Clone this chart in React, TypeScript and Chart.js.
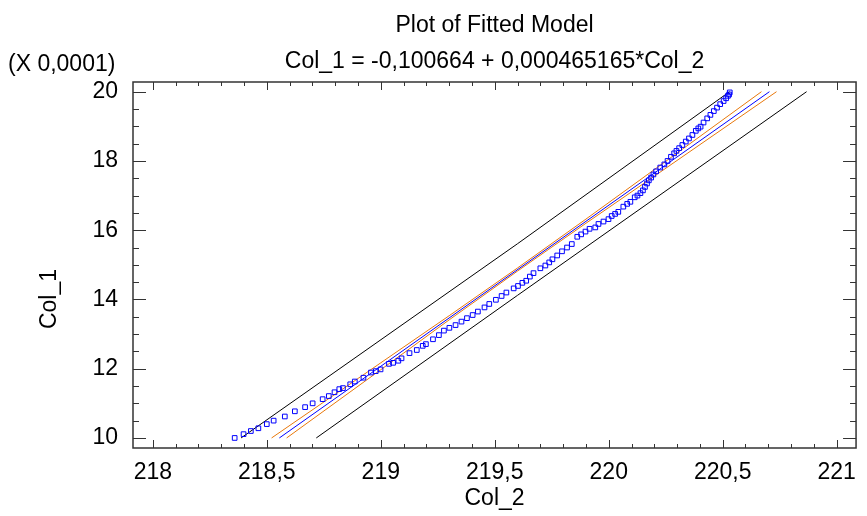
import React, { useEffect, useRef } from "react";
import { Chart, registerables } from "chart.js";

Chart.register(...registerables);

const titleLine1 = "Plot of Fitted Model";
const titleLine2 = "Col_1 = -0,100664 + 0,000465165*Col_2";
const yScaleNote = "(X 0,0001)";
const xAxisTitle = "Col_2";
const yAxisTitle = "Col_1";

const xMajorTicks = [218, 218.5, 219, 219.5, 220, 220.5, 221];
const yMajorTicks = [10, 12, 14, 16, 18, 20];
const xMinorStep = 0.1;
const yMinorStep = 0.5;
const xRange = [217.913, 221.085];
const yRange = [9.71, 20.28];

// observed points (Col_2, Col_1 in units of 0.0001)
const obsX = [
  218.359, 218.398, 218.43, 218.463, 218.5, 218.53, 218.579, 218.623, 218.668, 218.701,
  218.745, 218.772, 218.797, 218.818, 218.834, 218.866, 218.886, 218.924, 218.957, 218.978,
  218.999, 219.036, 219.054, 219.077, 219.091, 219.126, 219.158, 219.184, 219.198, 219.229,
  219.255, 219.277, 219.301, 219.328, 219.354, 219.378, 219.403, 219.426, 219.455, 219.476,
  219.505, 219.53, 219.551, 219.583, 219.602, 219.621, 219.638, 219.654, 219.67, 219.7,
  219.722, 219.739, 219.753, 219.774, 219.795, 219.817, 219.838, 219.862, 219.879, 219.898,
  219.916, 219.941, 219.955, 219.977, 219.999, 220.013, 220.028, 220.042, 220.064, 220.081,
  220.095, 220.114, 220.126, 220.139, 220.15, 220.159, 220.168, 220.176, 220.186, 220.196,
  220.208, 220.226, 220.244, 220.258, 220.273, 220.287, 220.297, 220.309, 220.323, 220.338,
  220.352, 220.367, 220.382, 220.393, 220.403, 220.416, 220.432, 220.446, 220.461, 220.475,
  220.489, 220.504, 220.515, 220.523, 220.528, 220.531,
];
const obsY = [
  10.0, 10.11, 10.2, 10.28, 10.4, 10.5, 10.62, 10.77, 10.89, 11.0,
  11.12, 11.21, 11.32, 11.41, 11.44, 11.55, 11.63, 11.74, 11.89, 11.93,
  11.98, 12.14, 12.17, 12.23, 12.3, 12.45, 12.54, 12.66, 12.71, 12.85,
  12.97, 13.1, 13.18, 13.26, 13.36, 13.46, 13.55, 13.65, 13.77, 13.87,
  13.99, 14.1, 14.2, 14.32, 14.39, 14.48, 14.54, 14.66, 14.76, 14.9,
  14.98, 15.07, 15.16, 15.27, 15.39, 15.5, 15.6, 15.81, 15.88, 15.96,
  16.04, 16.08, 16.18, 16.25, 16.32, 16.41, 16.47, 16.53, 16.68, 16.76,
  16.82, 16.95, 17.0, 17.07, 17.15, 17.25, 17.35, 17.44, 17.52, 17.61,
  17.7, 17.81, 17.9, 18.0, 18.12, 18.22, 18.29, 18.37, 18.46, 18.56,
  18.65, 18.75, 18.87, 18.94, 18.99, 19.11, 19.23, 19.33, 19.44, 19.54,
  19.64, 19.73, 19.81, 19.88, 19.92, 19.98,
];

// fitted line
const fitX = [218.555, 220.705];
const fitY = [10, 20];

// confidence limits for the mean
const confUpperX = [218.521, 219.0, 219.3, 219.6, 219.9, 220.2, 220.67];
const confUpperY = [10.0, 12.17, 13.53, 14.91, 16.32, 17.75, 20.0];
const confLowerX = [218.587, 219.0, 219.3, 219.6, 219.9, 220.2, 220.736];
const confLowerY = [10.0, 11.97, 13.41, 14.82, 16.2, 17.56, 20.0];

// prediction limits
const predUpperX = [218.387, 219.6, 220.53];
const predUpperY = [10.0, 15.61, 20.0];
const predLowerX = [218.717, 219.6, 220.868];
const predLowerY = [10.0, 14.12, 20.0];

const FONT = "'Liberation Sans', Arial, sans-serif";
const FONT_SIZE = 23;

const pts = (xs: number[], ys: number[]) => xs.map((x, i) => ({ x, y: ys[i] }));
const fmt = (v: number) => String(+v.toFixed(2)).replace(".", ",");

const decorPlugin = {
  id: "decor",
  afterDraw(chart: any) {
    const ctx = chart.ctx as CanvasRenderingContext2D;
    const { left, right, top, bottom } = chart.chartArea;
    const xs = chart.scales.x;
    const ys = chart.scales.y;
    ctx.save();
    // box
    ctx.strokeStyle = "#333";
    ctx.lineWidth = 1.5;
    ctx.strokeRect(left, top, right - left, bottom - top);
    // ticks
    ctx.lineWidth = 1;
    ctx.beginPath();
    const isMajor = (v: number, arr: number[]) => arr.some((m) => Math.abs(m - v) < 1e-6);
    for (let v = Math.ceil(xRange[0] / xMinorStep) * xMinorStep; v <= xRange[1] + 1e-9; v += xMinorStep) {
      const vv = Math.round(v * 10) / 10;
      const p = Math.round(xs.getPixelForValue(vv)) + 0.5;
      const len = isMajor(vv, xMajorTicks) ? 8 : 4;
      ctx.moveTo(p, bottom);
      ctx.lineTo(p, bottom - len);
      ctx.moveTo(p, top);
      ctx.lineTo(p, top + len);
    }
    for (let v = Math.ceil(yRange[0] / yMinorStep) * yMinorStep; v <= yRange[1] + 1e-9; v += yMinorStep) {
      const vv = Math.round(v * 2) / 2;
      const p = Math.round(ys.getPixelForValue(vv)) + 0.5;
      const len = isMajor(vv, yMajorTicks) ? 13 : 6;
      ctx.moveTo(left, p);
      ctx.lineTo(left + len, p);
      ctx.moveTo(right, p);
      ctx.lineTo(right - len, p);
    }
    ctx.stroke();
    // texts
    ctx.fillStyle = "#000";
    ctx.font = `${FONT_SIZE}px ${FONT}`;
    ctx.textBaseline = "alphabetic";
    ctx.textAlign = "center";
    const cx = (left + right) / 2;
    ctx.fillText(titleLine1, cx, 32);
    ctx.fillText(titleLine2, cx, 68);
    ctx.fillText(xAxisTitle, cx, 505);
    ctx.textAlign = "left";
    ctx.fillText(yScaleNote, 8, 71);
    ctx.save();
    ctx.translate(56, 299);
    ctx.rotate(-Math.PI / 2);
    ctx.textAlign = "center";
    ctx.fillText(yAxisTitle, 0, 0);
    ctx.restore();
    ctx.restore();
  },
};

export default function App() {
  const ref = useRef<HTMLCanvasElement>(null);
  useEffect(() => {
    if (!ref.current) return;
    const lineDs = (label: string, data: any[], color: string) => ({
      label,
      data,
      showLine: true,
      borderColor: color,
      backgroundColor: color,
      borderWidth: 1,
      pointRadius: 0,
      fill: false,
      tension: 0,
    });
    const chart = new Chart(ref.current, {
      type: "scatter",
      data: {
        datasets: [
          {
            label: "Observed",
            data: pts(obsX, obsY),
            pointStyle: "rect",
            pointRadius: 3.3,
            borderColor: "#0000ff",
            backgroundColor: "rgba(0,0,0,0)",
            borderWidth: 1,
            showLine: false,
          },
          lineDs("Fit", pts(fitX, fitY), "#0000ff"),
          lineDs("Conf upper", pts(confUpperX, confUpperY), "#e8780c"),
          lineDs("Conf lower", pts(confLowerX, confLowerY), "#e8780c"),
          lineDs("Pred upper", pts(predUpperX, predUpperY), "#000000"),
          lineDs("Pred lower", pts(predLowerX, predLowerY), "#000000"),
        ] as any,
      },
      options: {
        responsive: false,
        animation: false,
        layout: { padding: { top: 82, right: 1, left: 0, bottom: 0 } },
        plugins: { legend: { display: false }, title: { display: false }, tooltip: { enabled: false } },
        scales: {
          x: {
            type: "linear",
            min: xRange[0],
            max: xRange[1],
            grid: { display: false, drawTicks: false },
            border: { display: false },
            afterBuildTicks: (s: any) => {
              s.ticks = xMajorTicks.map((v) => ({ value: v }));
            },
            afterFit: (s: any) => {
              s.height = 68;
            },
            ticks: {
              padding: 11,
              color: "#000",
              maxRotation: 0,
              autoSkip: false,
              font: { family: FONT, size: FONT_SIZE },
              callback: (v: any) => fmt(Number(v)),
            },
          },
          y: {
            type: "linear",
            min: yRange[0],
            max: yRange[1],
            grid: { display: false, drawTicks: false },
            border: { display: false },
            afterBuildTicks: (s: any) => {
              s.ticks = yMajorTicks.map((v) => ({ value: v }));
            },
            afterFit: (s: any) => {
              s.width = 133;
            },
            ticks: {
              padding: 15,
              color: "#000",
              autoSkip: false,
              font: { family: FONT, size: FONT_SIZE },
              callback: (v: any) => fmt(Number(v)),
            },
          },
        },
      } as any,
      plugins: [decorPlugin],
    });
    return () => chart.destroy();
  }, []);
  return (
    <div style={{ position: "fixed", left: 0, top: 0, width: 867, height: 516, background: "#fff" }}>
      <canvas ref={ref} width={867} height={516} style={{ display: "block" }} />
    </div>
  );
}
